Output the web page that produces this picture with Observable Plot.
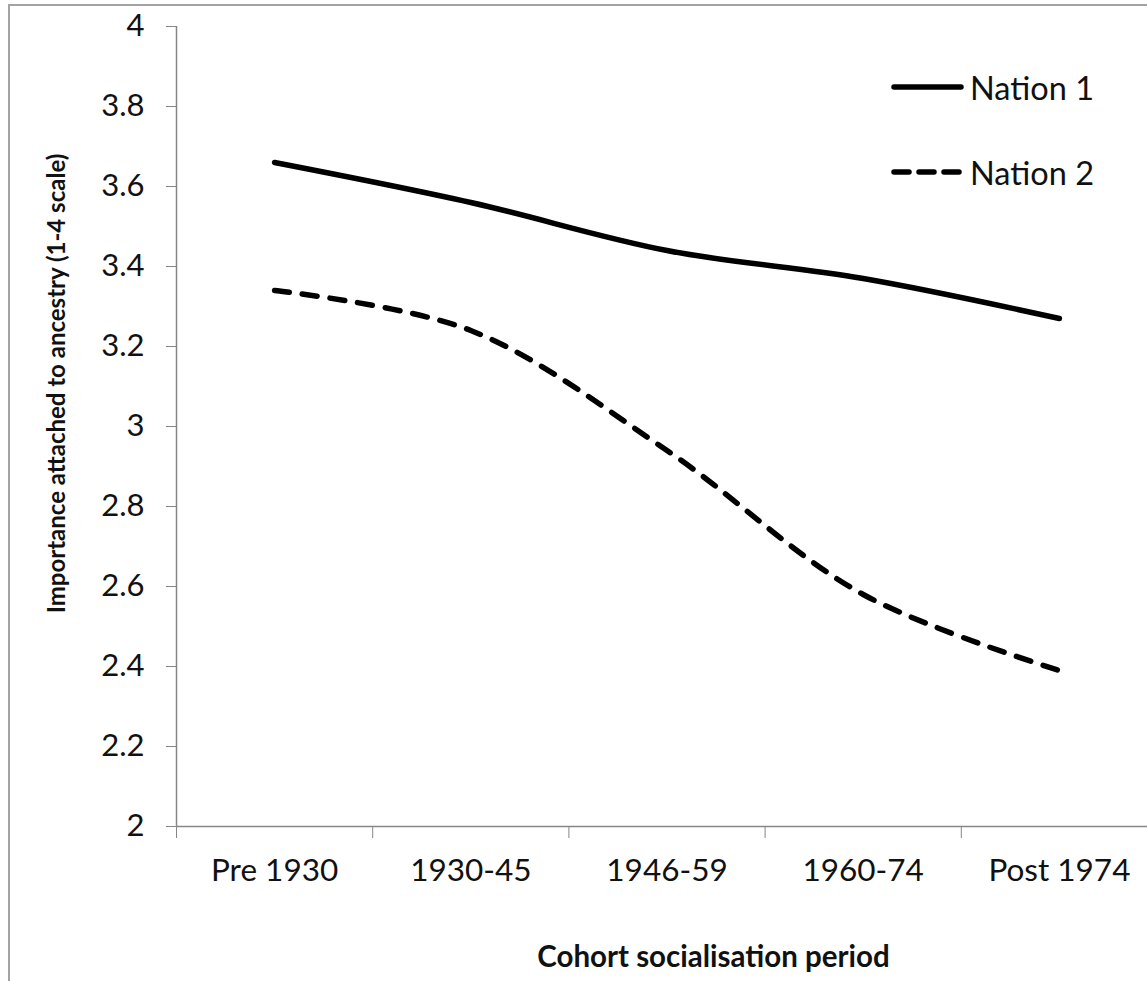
<!DOCTYPE html>
<html><head><meta charset="utf-8">
<script src="https://cdn.jsdelivr.net/npm/d3@7"></script>
<script src="https://cdn.jsdelivr.net/npm/@observablehq/plot@0.6"></script>
<style>
html,body{margin:0;padding:0;background:#fff;overflow:hidden;width:1147px;height:981px}
#wrap{position:relative;width:1147px;height:981px;overflow:hidden;font-family:Lato,"Open Sans",sans-serif}
#border{position:absolute;left:8px;top:4px;width:2000px;height:2000px;border-left:2px solid #a3a3a3;border-top:2px solid #a3a3a3}
#chart{position:absolute;left:0;top:0}
.leg{position:absolute;left:890px;display:flex;align-items:center;font-size:32.5px;color:#111}
.leg svg{display:block;margin-right:4px}
</style></head>
<body><div id="wrap"><div id="border"></div><div id="chart"></div>
<div class="leg" id="leg1" style="top:66px"></div>
<div class="leg" id="leg2" style="top:151px"></div>
</div>
<script>
const categories = ["Pre 1930", "1930-45", "1946-59", "1960-74", "Post 1974"];
const nation1 = [3.66, 3.56, 3.44, 3.37, 3.27];
const nation2 = [3.34, 3.24, 2.94, 2.58, 2.39];
const seriesNames = ["Nation 1", "Nation 2"];
const yTicks = [2, 2.2, 2.4, 2.6, 2.8, 3, 3.2, 3.4, 3.6, 3.8, 4];
const yTickLabels = ["2", "2.2", "2.4", "2.6", "2.8", "3", "3.2", "3.4", "3.6", "3.8", "4"];
const xTitle = "Cohort socialisation period";
const yTitle = "Importance attached to ancestry (1-4 scale)";

const rows = [];
categories.forEach((c, i) => {
  rows.push({series: seriesNames[0], i, cat: c, v: nation1[i]});
  rows.push({series: seriesNames[1], i, cat: c, v: nation2[i]});
});
const boundaries = d3.range(categories.length + 1);
const centers = categories.map((c, i) => i + 0.5);
const axisGray = "#868686";

const chart = Plot.plot({
  width: 1147,
  height: 981,
  marginLeft: 176,
  marginRight: 0,
  marginTop: 26,
  marginBottom: 155,
  style: {fontFamily: "Lato, 'Open Sans', sans-serif", color: "#111", background: "transparent", overflow: "visible"},
  x: {domain: [0, categories.length], range: [176, 1157]},
  y: {domain: [2, 4]},
  marks: [
    Plot.ruleY([2], {stroke: axisGray, strokeWidth: 1.5}),
    Plot.ruleX([0], {y1: 2, y2: 4, stroke: axisGray, strokeWidth: 1.5}),
    Plot.axisY({ticks: yTicks, tickSize: 10, tickPadding: 22, stroke: axisGray, fill: "#111", fontSize: 31,
      tickFormat: d => yTickLabels[yTicks.indexOf(d)], label: null}),
    Plot.axisX({ticks: boundaries, tickSize: 12, stroke: axisGray, tickFormat: () => "", label: null}),
    Plot.axisX({ticks: centers, tickSize: 0, tickPadding: 32, fill: "#111", fontSize: 31.5,
      tickFormat: d => categories[Math.round(d - 0.5)], label: null}),
    Plot.line(rows.filter(d => d.series === "Nation 1"), {x: d => d.i + 0.5, y: "v", stroke: "#000", strokeWidth: 5.5,
      curve: "catmull-rom", strokeLinecap: "round"}),
    Plot.line(rows.filter(d => d.series === "Nation 2"), {x: d => d.i + 0.5, y: "v", stroke: "#000", strokeWidth: 5.5,
      curve: "catmull-rom", strokeLinecap: "round", strokeDasharray: "15,13"}),
    Plot.text([yTitle], {frameAnchor: "left", dx: -119, dy: -43, rotate: -90, textAnchor: "middle", lineAnchor: "middle",
      fontWeight: "bold", fontSize: 24, fill: "#111"}),
    Plot.text([xTitle], {frameAnchor: "bottom", dx: 51.5, dy: 131.5, textAnchor: "middle", lineAnchor: "middle",
      fontWeight: "bold", fontSize: 29.5, fill: "#111"})
  ]
});
document.getElementById("chart").appendChild(chart);

function legendItem(id, name, dash) {
  const el = document.getElementById(id);
  const svg = d3.create("svg").attr("width", 76).attr("height", 42);
  svg.append("line").attr("x1", 4).attr("x2", 71).attr("y1", 21).attr("y2", 21)
    .attr("stroke", "#000").attr("stroke-width", 5.5).attr("stroke-linecap", "round")
    .attr("stroke-dasharray", dash);
  el.appendChild(svg.node());
  const span = document.createElement("span");
  span.textContent = name;
  el.appendChild(span);
}
legendItem("leg1", seriesNames[0], null);
legendItem("leg2", seriesNames[1], "15,10");
</script>
</body></html>
